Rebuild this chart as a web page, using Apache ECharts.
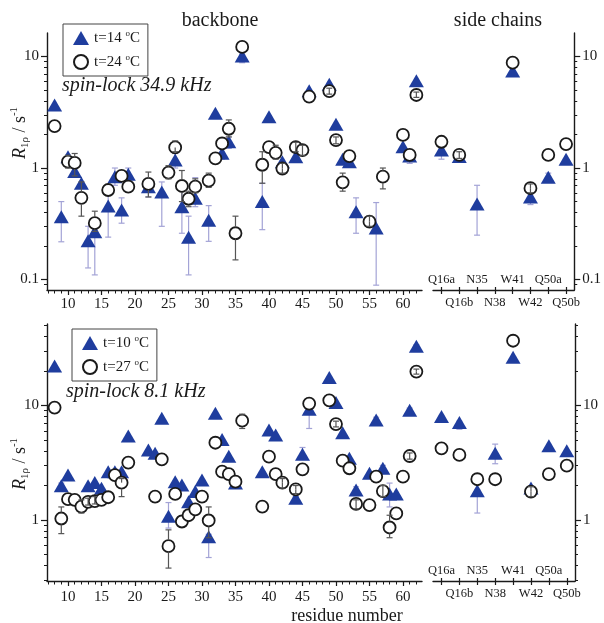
<!DOCTYPE html>
<html>
<head>
<meta charset="utf-8">
<script src="https://cdn.jsdelivr.net/npm/echarts@6/dist/echarts.min.js"></script>
<style>
html, body { margin: 0; padding: 0; background: #fff; }
#chart { width: 604px; height: 623px; }
</style>
</head>
<body>
<div id="chart"></div>
<script>
// ---- axis ticks and categories ----
const backboneTicks = [10, 15, 20, 25, 30, 35, 40, 45, 50, 55, 60];
const backboneMinorTicks = [7, 8, 9, 11, 12, 13, 14, 16, 17, 18, 19, 21, 22, 23, 24, 26, 27, 28, 29, 31, 32, 33, 34, 36, 37, 38, 39, 41, 42, 43, 44, 46, 47, 48, 49, 51, 52, 53, 54, 56, 57, 58, 59, 61, 62];
const sideChainLabels = ['Q16a', 'Q16b', 'N35', 'N38', 'W41', 'W42', 'Q50a', 'Q50b'];
const decadesTop = [0.1, 1, 10];
const minorTop = [0.09, 0.2, 0.3, 0.4, 0.5, 0.6, 0.7, 0.8, 0.9, 2, 3, 4, 5, 6, 7, 8, 9];
const decadesBottom = [1, 10];
const minorBottom = [0.3, 0.4, 0.5, 0.6, 0.7, 0.8, 0.9, 2, 3, 4, 5, 6, 7, 8, 9, 20, 30, 40, 50];

// ---- spin-lock 34.9 kHz: R1rho (s^-1) per residue ----
const bb14 = [[8, 3.67], [9, 0.366], [10, 1.26], [11, 0.93], [12, 0.73], [13, 0.223], [14, 0.268], [16, 0.456], [17, 0.836], [18, 0.42], [19, 0.88], [22, 0.68], [24, 0.61], [26, 1.18], [27, 0.45], [28, 0.24], [29, 0.535], [31, 0.34], [32, 3.1], [33, 1.36], [34, 1.72], [36, 10.1], [39, 0.5], [40, 2.88], [42, 1.14], [44, 1.26], [46, 4.94], [49, 5.63], [50, 2.47], [51, 1.2], [52, 1.14], [53, 0.406], [56, 0.29], [60, 1.55], [61, 1.28], [62, 6.07]];
const bb24 = [[8, 2.38], [10, 1.14], [11, 1.11], [12, 0.54], [14, 0.32], [16, 0.635], [18, 0.85], [19, 0.68], [22, 0.72], [25, 0.91], [26, 1.53], [27, 0.69], [28, 0.53], [29, 0.68], [31, 0.77], [32, 1.22], [33, 1.66], [34, 2.25], [35, 0.26], [36, 12.2], [39, 1.07], [40, 1.54], [41, 1.37], [42, 0.99], [44, 1.54], [45, 1.45], [46, 4.36], [49, 4.9], [50, 1.78], [51, 0.745], [52, 1.28], [55, 0.33], [57, 0.836], [60, 1.98], [61, 1.31], [62, 4.52]];
const sc14 = [[0, 1.45], [1, 1.27], [2, 0.476], [4, 7.4], [5, 0.55], [6, 0.825], [7, 1.2]];
const sc24 = [[0, 1.72], [1, 1.31], [4, 8.8], [5, 0.66], [6, 1.31], [7, 1.64]];
// error ranges [position, low, high]
const bb14Err = [[9, 0.218, 0.5], [13, 0.127, 0.3], [14, 0.11, 0.33], [16, 0.24, 0.6], [17, 0.7, 1.0], [18, 0.32, 0.54], [19, 0.75, 1.0], [22, 0.55, 0.75], [24, 0.3, 0.75], [26, 1.0, 1.35], [27, 0.26, 0.62], [28, 0.11, 0.37], [29, 0.45, 0.82], [31, 0.22, 0.46], [33, 1.2, 1.5], [34, 1.5, 1.9], [36, 8.8, 10.5], [39, 0.28, 0.73], [53, 0.26, 0.54], [56, 0.089, 0.49], [61, 1.1, 1.4]];
const bb24Err = [[10, 1.0, 1.3], [11, 0.85, 1.35], [12, 0.37, 0.75], [14, 0.27, 0.41], [22, 0.55, 0.92], [25, 0.8, 1.05], [26, 1.4, 1.75], [27, 0.5, 0.95], [28, 0.45, 0.62], [29, 0.6, 0.8], [31, 0.67, 0.9], [34, 1.9, 2.7], [35, 0.15, 0.37], [39, 0.73, 1.4], [41, 1.2, 1.6], [42, 0.9, 1.1], [44, 1.4, 1.7], [45, 1.3, 1.6], [49, 4.6, 5.2], [50, 1.65, 1.9], [51, 0.62, 0.9], [55, 0.3, 0.37], [57, 0.65, 1.0], [62, 4.3, 4.8]];
const sc14Err = [[0, 1.2, 1.6], [2, 0.25, 0.7], [5, 0.47, 0.6], [6, 0.75, 0.9]];
const sc24Err = [[1, 1.22, 1.4], [5, 0.6, 0.72]];

// ---- spin-lock 8.1 kHz: R1rho (s^-1) per residue ----
const bb10 = [[8, 22.1], [9, 1.99], [10, 2.47], [13, 1.99], [14, 2.13], [15, 1.89], [16, 2.64], [17, 2.64], [18, 2.64], [19, 5.42], [22, 4.09], [23, 3.82], [24, 7.73], [25, 1.08], [26, 2.16], [27, 2.02], [28, 1.44], [29, 1.77], [30, 2.24], [31, 0.715], [32, 8.54], [33, 5.06], [34, 3.6], [35, 2.1], [39, 2.64], [40, 6.1], [41, 5.53], [44, 1.55], [45, 3.75], [46, 9.27], [49, 17.6], [50, 10.6], [51, 5.79], [52, 3.46], [53, 1.83], [55, 2.56], [56, 7.47], [57, 2.83], [58, 1.69], [59, 1.69], [61, 9.1], [62, 33]];
const bb27 = [[8, 9.6], [9, 1.03], [10, 1.52], [11, 1.5], [12, 1.31], [13, 1.44], [14, 1.46], [15, 1.5], [16, 1.58], [17, 2.47], [18, 2.12], [19, 3.17], [23, 1.6], [24, 3.39], [25, 0.59], [26, 1.69], [27, 0.97], [28, 1.1], [29, 1.24], [30, 1.6], [31, 0.99], [32, 4.73], [33, 2.64], [34, 2.52], [35, 2.16], [36, 7.37], [39, 1.31], [40, 3.57], [41, 2.52], [42, 2.12], [44, 1.85], [45, 2.77], [46, 10.4], [49, 11.1], [50, 6.89], [51, 3.3], [52, 2.83], [53, 1.38], [55, 1.35], [56, 2.39], [57, 1.79], [58, 0.86], [59, 1.14], [60, 2.39], [61, 3.62], [62, 19.8]];
const sc10 = [[0, 8.0], [1, 7.1], [2, 1.8], [3, 3.82], [4, 26.4], [5, 1.9], [6, 4.46], [7, 4.03]];
const sc27 = [[0, 4.23], [1, 3.7], [2, 2.27], [3, 2.27], [4, 36.8], [5, 1.77], [6, 2.52], [7, 2.98]];
const bb10Err = [[9, 1.85, 2.1], [25, 0.85, 1.42], [31, 0.47, 0.75], [44, 1.4, 1.6], [45, 3.5, 4.3], [46, 6.3, 9.5], [53, 1.7, 1.95], [56, 7.0, 7.9], [57, 2.6, 3.0], [58, 1.3, 2.1], [61, 8.4, 9.5], [62, 31, 34]];
const bb27Err = [[9, 0.76, 1.3], [12, 1.15, 1.5], [13, 1.35, 1.55], [14, 1.38, 1.6], [18, 1.6, 2.3], [25, 0.38, 0.82], [31, 0.7, 1.3], [36, 6.3, 8.4], [42, 1.9, 2.3], [44, 1.7, 2.0], [50, 6.5, 7.3], [53, 1.25, 1.5], [57, 1.6, 2.0], [58, 0.7, 1.1], [61, 3.4, 3.85], [62, 18.8, 20.8]];
const sc10Err = [[0, 7.3, 8.2], [1, 6.2, 7.3], [2, 1.15, 1.85], [3, 3.1, 4.6]];
const sc27Err = [[5, 1.6, 1.95]];

// ---- drawing helpers ----
const SERIF = '"Liberation Serif", "DejaVu Serif", serif';
const INK = '#1a1a1a';
const BLUE = '#1f3d9e';
const LAVENDER = '#a3a3d6';
const GREY = '#555555';
const lg = Math.log10;
const toLog = pts => pts.map(p => [p[0], lg(p[1])]);

const RANGE_TOP = [-1.094, 1.211];
const RANGE_BOTTOM = [-0.533, 1.712];
const RANGE_BACKBONE = [6.866, 62.84];
const RANGE_SIDE = [-0.475, 7.46];

function fmtDecade(v) {
  const r = Math.pow(10, v);
  return r < 1 ? r.toFixed(1) : String(Math.round(r));
}

function yAxesFor(gridIndex, position, range, decades, minors) {
  return [{
    type: 'value', gridIndex, position, min: range[0], max: range[1],
    axisLine: { show: true, onZero: false, lineStyle: { color: INK, width: 1.4 } },
    splitLine: { show: false },
    axisTick: { show: true, customValues: decades.map(lg), length: 6, lineStyle: { color: INK, width: 1.2 } },
    axisLabel: { customValues: decades.map(lg), formatter: fmtDecade, margin: 8, fontFamily: SERIF, fontSize: 15, color: INK }
  }, {
    type: 'value', gridIndex, position, min: range[0], max: range[1],
    axisLine: { show: false, onZero: false },
    splitLine: { show: false },
    axisTick: { show: true, customValues: minors.map(lg), length: 3, lineStyle: { color: INK, width: 1 } },
    axisLabel: { show: false }
  }];
}

function backboneXAxes(gridIndex, margin) {
  return [{
    type: 'value', gridIndex, position: 'bottom', min: RANGE_BACKBONE[0], max: RANGE_BACKBONE[1],
    axisLine: { show: true, onZero: false, lineStyle: { color: INK, width: 1.4 } },
    splitLine: { show: false },
    axisTick: { show: true, customValues: backboneTicks, length: 5, lineStyle: { color: INK, width: 1.2 } },
    axisLabel: { customValues: backboneTicks, margin, fontFamily: SERIF, fontSize: 15, color: INK }
  }, {
    type: 'value', gridIndex, position: 'bottom', min: RANGE_BACKBONE[0], max: RANGE_BACKBONE[1],
    axisLine: { show: false, onZero: false },
    splitLine: { show: false },
    axisTick: { show: true, customValues: backboneMinorTicks, length: 3.5, lineStyle: { color: INK, width: 1 } },
    axisLabel: { show: false }
  }];
}

function sideXAxes(gridIndex) {
  const all = sideChainLabels.map((_, i) => i);
  return [{
    type: 'value', gridIndex, position: 'bottom', min: RANGE_SIDE[0], max: RANGE_SIDE[1],
    axisLine: { show: true, onZero: false, lineStyle: { color: INK, width: 1.4 } },
    splitLine: { show: false },
    axisTick: { show: true, customValues: all, length: 4, lineStyle: { color: INK, width: 1.2 } },
    axisLabel: { customValues: all.filter(i => i % 2 === 1), formatter: v => sideChainLabels[v], margin: 6, fontFamily: SERIF, fontSize: 12.5, color: INK }
  }, {
    type: 'value', gridIndex, position: 'bottom', min: RANGE_SIDE[0], max: RANGE_SIDE[1],
    axisLine: { show: false, onZero: false },
    splitLine: { show: false },
    axisTick: { show: true, inside: true, customValues: all, length: 3, lineStyle: { color: INK, width: 1.2 } },
    axisLabel: { inside: true, customValues: all.filter(i => i % 2 === 0), formatter: v => sideChainLabels[v], margin: 4, fontFamily: SERIF, fontSize: 12.5, color: INK }
  }];
}

function triangles(name, xi, yi, pts) {
  return {
    name, type: 'scatter', xAxisIndex: xi, yAxisIndex: yi, data: toLog(pts),
    symbol: 'triangle', symbolSize: [15, 13], z: 3,
    itemStyle: { color: BLUE, opacity: 1 }
  };
}
function circles(name, xi, yi, pts) {
  return {
    name, type: 'scatter', xAxisIndex: xi, yAxisIndex: yi, data: toLog(pts),
    symbol: 'circle', symbolSize: 12, z: 4,
    itemStyle: { color: '#ffffff', borderColor: INK, borderWidth: 1.8, opacity: 1 }
  };
}
// vertical error bars with caps; gap keeps the bar outside the marker unless it fits inside
function errorBars(xi, yi, errs, centers, color, gap, z) {
  const data = errs.map(e => {
    const c = centers.find(p => p[0] === e[0]);
    return [e[0], lg(e[1]), lg(e[2]), lg(c ? c[1] : Math.sqrt(e[1] * e[2]))];
  });
  return {
    type: 'custom', xAxisIndex: xi, yAxisIndex: yi, data, z, silent: true,
    encode: { x: 0, y: [1, 2] },
    renderItem(params, api) {
      const x = api.value(0);
      const lo = api.coord([x, api.value(1)]);
      const hi = api.coord([x, api.value(2)]);
      const c = api.coord([x, api.value(3)]);
      const cx = c[0];
      const st = { stroke: color, lineWidth: 1.2 };
      const kids = [];
      const up = c[1] - hi[1];
      kids.push({ type: 'line', shape: { x1: cx, y1: up > gap ? c[1] - gap : c[1], x2: cx, y2: hi[1] }, style: st });
      const down = lo[1] - c[1];
      kids.push({ type: 'line', shape: { x1: cx, y1: down > gap ? c[1] + gap : c[1], x2: cx, y2: lo[1] }, style: st });
      kids.push({ type: 'line', shape: { x1: cx - 3, y1: hi[1], x2: cx + 3, y2: hi[1] }, style: st });
      kids.push({ type: 'line', shape: { x1: cx - 3, y1: lo[1], x2: cx + 3, y2: lo[1] }, style: st });
      return { type: 'group', children: kids };
    }
  };
}

const legendBase = {
  orient: 'vertical', borderColor: '#444', borderWidth: 1, padding: [5, 8, 5, 10],
  itemGap: 6, itemWidth: 16, itemHeight: 14, itemTextGap: 8,
  formatter: n => n + ' {sup|o}C',
  textStyle: {
    fontFamily: SERIF, fontSize: 15, color: INK, lineHeight: 18,
    rich: { sup: { fontFamily: SERIF, fontSize: 9, lineHeight: 9, verticalAlign: 'top', color: INK } }
  }
};

function yTitle(x, y) {
  return {
    type: 'text', x, y, rotation: Math.PI / 2,
    style: {
      text: '{r|R}{sub|1ρ}{n| / s}{sup|-1}', align: 'center', verticalAlign: 'middle', fill: INK,
      rich: {
        r: { fontFamily: SERIF, fontStyle: 'italic', fontSize: 18, lineHeight: 22 },
        sub: { fontFamily: SERIF, fontSize: 11, lineHeight: 10, verticalAlign: 'bottom' },
        n: { fontFamily: SERIF, fontSize: 18, lineHeight: 22 },
        sup: { fontFamily: SERIF, fontSize: 11, lineHeight: 10, verticalAlign: 'top' }
      }
    }
  };
}
function plainText(x, y, text, size, italic, align) {
  return {
    type: 'text', x, y,
    style: { text, fontFamily: SERIF, fontSize: size, fontStyle: italic ? 'italic' : 'normal', fill: INK, align: align || 'center', verticalAlign: 'middle' }
  };
}

const option = {
  animation: false,
  backgroundColor: '#ffffff',
  grid: [
    { left: 47, top: 33, width: 375, height: 257 },
    { left: 433, top: 33, width: 142, height: 257 },
    { left: 47, top: 324, width: 375, height: 257 },
    { left: 433, top: 324, width: 142, height: 257 }
  ],
  xAxis: [
    ...backboneXAxes(0, 7),   // 0,1
    ...sideXAxes(1),          // 2,3
    ...backboneXAxes(2, 9),   // 4,5
    ...sideXAxes(3)           // 6,7
  ],
  yAxis: [
    ...yAxesFor(0, 'left', RANGE_TOP, decadesTop, minorTop),          // 0,1
    ...yAxesFor(1, 'right', RANGE_TOP, decadesTop, minorTop),         // 2,3
    ...yAxesFor(2, 'left', RANGE_BOTTOM, decadesBottom, minorBottom), // 4,5
    ...yAxesFor(3, 'right', RANGE_BOTTOM, decadesBottom, minorBottom) // 6,7
  ],
  legend: [
    Object.assign({}, legendBase, { left: 63, top: 24, data: ['t=14', 't=24'] }),
    Object.assign({}, legendBase, { left: 72, top: 329, data: ['t=10', 't=27'] })
  ],
  series: [
    // 34.9 kHz, backbone
    errorBars(0, 0, bb14Err, bb14, LAVENDER, 0, 2),
    triangles('t=14', 0, 0, bb14),
    circles('t=24', 0, 0, bb24),
    errorBars(0, 0, bb24Err, bb24, GREY, 6, 5),
    // 34.9 kHz, side chains
    errorBars(2, 2, sc14Err, sc14, LAVENDER, 0, 2),
    triangles('t=14', 2, 2, sc14),
    circles('t=24', 2, 2, sc24),
    errorBars(2, 2, sc24Err, sc24, GREY, 6, 5),
    // 8.1 kHz, backbone
    errorBars(4, 4, bb10Err, bb10, LAVENDER, 0, 2),
    triangles('t=10', 4, 4, bb10),
    circles('t=27', 4, 4, bb27),
    errorBars(4, 4, bb27Err, bb27, GREY, 6, 5),
    // 8.1 kHz, side chains
    errorBars(6, 6, sc10Err, sc10, LAVENDER, 0, 2),
    triangles('t=10', 6, 6, sc10),
    circles('t=27', 6, 6, sc27),
    errorBars(6, 6, sc27Err, sc27, GREY, 6, 5)
  ],
  graphic: [
    plainText(220, 21, 'backbone', 20, false),
    plainText(498, 21, 'side chains', 20, false),
    plainText(62, 86, 'spin-lock 34.9 kHz', 20, true, 'left'),
    plainText(66, 392, 'spin-lock 8.1 kHz', 20, true, 'left'),
    plainText(347, 616, 'residue number', 18, false),
    yTitle(20, 133),
    yTitle(20, 464)
  ]
};

const chart = echarts.init(document.getElementById('chart'), null, { renderer: 'canvas' });
chart.setOption(option);
</script>
</body>
</html>
